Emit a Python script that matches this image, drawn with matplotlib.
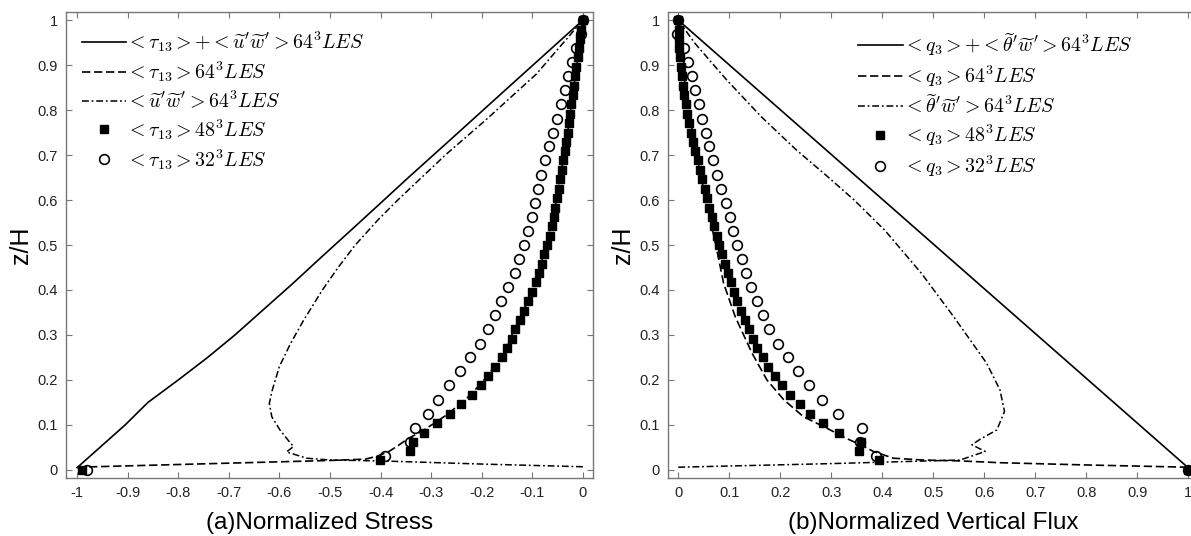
import matplotlib
matplotlib.use("Agg")
import matplotlib.pyplot as plt
from matplotlib.ticker import FuncFormatter

plt.rcParams["font.family"] = ["Liberation Sans", "DejaVu Sans"]
plt.rcParams["mathtext.fontset"] = "cm"

# grid levels of the coarse runs
z48 = [0.0, 0.021, 0.042, 0.063, 0.083, 0.104, 0.125, 0.146, 0.167, 0.188, 0.208, 0.229, 0.25,
       0.271, 0.292, 0.313, 0.333, 0.354, 0.375, 0.396, 0.417, 0.438, 0.458, 0.479, 0.5,
       0.521, 0.542, 0.563, 0.583, 0.604, 0.625, 0.646, 0.667, 0.688, 0.708, 0.729, 0.75,
       0.771, 0.792, 0.813, 0.833, 0.854, 0.875, 0.896, 0.917, 0.938, 0.958, 0.979, 1.0]
z32 = [0.0, 0.031, 0.063, 0.094, 0.125, 0.156, 0.188, 0.219, 0.25, 0.281, 0.313, 0.344, 0.375,
       0.406, 0.438, 0.469, 0.5, 0.531, 0.563, 0.594, 0.625, 0.656, 0.688, 0.719, 0.75,
       0.781, 0.813, 0.844, 0.875, 0.906, 0.938, 0.969, 1.0]

# (a) stress
stress_sgs48 = [-0.99, -0.401, -0.342, -0.336, -0.314, -0.288, -0.263, -0.240, -0.220, -0.202,
                -0.187, -0.174, -0.160, -0.150, -0.141, -0.134, -0.124, -0.116, -0.108, -0.100,
                -0.093, -0.087, -0.081, -0.076, -0.071, -0.066, -0.062, -0.058, -0.055, -0.051,
                -0.048, -0.045, -0.042, -0.039, -0.036, -0.033, -0.030, -0.028, -0.025, -0.023,
                -0.020, -0.018, -0.015, -0.013, -0.010, -0.008, -0.005, -0.003, 0.0]
stress_sgs32 = [-0.98, -0.391, -0.342, -0.332, -0.307, -0.286, -0.265, -0.243, -0.223, -0.204,
                -0.188, -0.174, -0.161, -0.148, -0.135, -0.126, -0.117, -0.109, -0.101, -0.095,
                -0.088, -0.082, -0.075, -0.067, -0.060, -0.052, -0.044, -0.036, -0.029, -0.022,
                -0.014, -0.003, 0.0]

stress_tot_z = [0.005, 0.05, 0.1, 0.15, 0.2, 0.25, 0.3, 0.35, 0.415, 0.47, 0.556, 0.65, 0.733,
                0.85, 1.0]
stress_tot_x = [-1.0, -0.955, -0.905, -0.86, -0.8, -0.742, -0.688, -0.638, -0.573, -0.52,
                -0.436, -0.345, -0.263, -0.148, 0.0]

stress_sgs_z = [0.006, 0.012, 0.018, 0.021, 0.024, 0.03, 0.04, 0.052, 0.07, 0.085, 0.105, 0.125,
                0.167, 0.208, 0.25, 0.313, 0.375, 0.438, 0.5, 0.583, 0.667, 0.75, 0.833, 0.917, 1.0]
stress_sgs_x = [-1.0, -0.8, -0.6, -0.5, -0.43, -0.408, -0.385, -0.368, -0.345, -0.32, -0.292,
                -0.266, -0.222, -0.189, -0.162, -0.135, -0.109, -0.088, -0.072, -0.055, -0.042,
                -0.030, -0.020, -0.010, 0.0]

stress_res_z = [0.007, 0.013, 0.02, 0.022, 0.026, 0.04, 0.052, 0.062, 0.089, 0.118, 0.148, 0.178,
                0.23, 0.281, 0.333, 0.4, 0.45, 0.5, 0.556, 0.6, 0.7, 0.778, 0.88, 1.0]
stress_res_x = [0.0, -0.2, -0.4, -0.5, -0.546, -0.586, -0.572, -0.58, -0.599, -0.615, -0.62,
                -0.614, -0.6, -0.578, -0.552, -0.515, -0.484, -0.45, -0.405, -0.366, -0.272,
                -0.192, -0.092, 0.0]

# (b) vertical flux
flux_sgs48 = [1.0, 0.393, 0.355, 0.358, 0.316, 0.284, 0.259, 0.239, 0.220, 0.204, 0.190, 0.177,
              0.166, 0.154, 0.146, 0.138, 0.130, 0.124, 0.116, 0.110, 0.103, 0.097, 0.092, 0.086,
              0.080, 0.076, 0.071, 0.066, 0.061, 0.056, 0.052, 0.046, 0.042, 0.038, 0.033, 0.029,
              0.025, 0.022, 0.018, 0.015, 0.012, 0.010, 0.008, 0.006, 0.004, 0.002, 0.001, 0.001, 0.0]
flux_sgs32 = [1.0, 0.388, 0.357, 0.360, 0.313, 0.282, 0.257, 0.235, 0.215, 0.195, 0.179, 0.167,
              0.154, 0.143, 0.133, 0.125, 0.116, 0.108, 0.101, 0.093, 0.084, 0.077, 0.069, 0.061,
              0.054, 0.046, 0.040, 0.032, 0.027, 0.020, 0.012, -0.003, 0.0]

flux_tot_z = [1.0, 0.005]
flux_tot_x = [0.0, 1.0]

flux_sgs_z = [0.006, 0.011, 0.016, 0.02, 0.022, 0.026, 0.041, 0.056, 0.07, 0.093, 0.118, 0.156,
              0.2, 0.259, 0.34, 0.415, 0.504, 0.58, 0.667, 0.75, 0.833, 0.917, 1.0]
flux_sgs_x = [1.0, 0.8, 0.631, 0.553, 0.48, 0.422, 0.383, 0.357, 0.33, 0.291, 0.246, 0.207,
              0.174, 0.145, 0.112, 0.089, 0.073, 0.058, 0.042, 0.028, 0.016, 0.007, 0.0]

flux_res_z = [0.006, 0.014, 0.022, 0.041, 0.056, 0.068, 0.089, 0.13, 0.178, 0.237, 0.341, 0.437,
              0.533, 0.6, 0.655, 0.711, 0.785, 0.867, 0.948, 1.0]
flux_res_x = [0.0, 0.3, 0.553, 0.602, 0.576, 0.592, 0.625, 0.64, 0.631, 0.605, 0.54, 0.477,
              0.405, 0.345, 0.29, 0.232, 0.163, 0.095, 0.033, 0.0]

labels_a = [r"$<\tau_{13}>+<\widetilde{u}'\widetilde{w}'>64^3LES$",
            r"$<\tau_{13}>64^3LES$",
            r"$<\widetilde{u}'\widetilde{w}'>64^3LES$",
            r"$<\tau_{13}>48^3LES$",
            r"$<\tau_{13}>32^3LES$"]
labels_b = [r"$<q_3>+<\widetilde{\theta}'\widetilde{w}'>64^3LES$",
            r"$<q_3>64^3LES$",
            r"$<\widetilde{\theta}'\widetilde{w}'>64^3LES$",
            r"$<q_3>48^3LES$",
            r"$<q_3>32^3LES$"]

DASH = (5, 2.2)
DASHDOT = (4.5, 1.8, 1.2, 1.8)
SPINE = "#777777"


def fmt(v, pos):
    return f"{v:.1f}".rstrip("0").rstrip(".") if abs(v) > 1e-9 else "0"


def draw(ax, tot, sgs, res, sq, ci, labels, xlim, xticks, xlabel):
    ax.plot(tot[0], tot[1], color="k", lw=1.2, label=labels[0])
    ax.plot(sgs[0], sgs[1], color="k", lw=1.2, dashes=DASH, label=labels[1])
    ax.plot(res[0], res[1], color="k", lw=1.1, dashes=DASHDOT, label=labels[2])
    ax.plot(sq, z48, ls="none", marker="s", ms=6.2, color="k", label=labels[3])
    ax.plot(ci, z32, ls="none", marker="o", ms=7, mfc="none", mec="k", mew=1.2, label=labels[4])
    ax.set_xlim(*xlim)
    ax.set_ylim(-0.018, 1.018)
    ax.set_xticks(xticks)
    ax.set_yticks([i / 10 for i in range(11)])
    ax.xaxis.set_major_formatter(FuncFormatter(fmt))
    ax.yaxis.set_major_formatter(FuncFormatter(fmt))
    ax.tick_params(direction="in", top=True, right=True, length=4, width=0.8,
                   color=SPINE, labelsize=10.5, labelcolor="#222222", pad=6)
    for s in ax.spines.values():
        s.set_color(SPINE)
        s.set_linewidth(1.0)
    ax.set_ylabel("z/H", fontsize=18, labelpad=3)
    ax.set_xlabel(xlabel, fontsize=17.5)


fig = plt.figure(figsize=(11.91, 5.36), dpi=100)
ax1 = fig.add_axes([0.0554, 0.1082, 0.4425, 0.8694])
ax2 = fig.add_axes([0.5609, 0.1082, 0.4452, 0.8694])

draw(ax1, (stress_tot_x, stress_tot_z), (stress_sgs_x, stress_sgs_z),
     (stress_res_x, stress_res_z), stress_sgs48, stress_sgs32, labels_a,
     (-1.022, 0.02), [-1 + i / 10 for i in range(11)], "(a)Normalized Stress")
draw(ax2, (flux_tot_x, flux_tot_z), (flux_sgs_x, flux_sgs_z),
     (flux_res_x, flux_res_z), flux_sgs48, flux_sgs32, labels_b,
     (-0.02, 1.02), [i / 10 for i in range(11)], "(b)Normalized Vertical Flux")
# the left caption sits a little left of the axes centre in the original
ax1.xaxis.set_label_coords(0.482, -0.073)
ax2.xaxis.set_label_coords(0.5, -0.073)

leg_kw = dict(frameon=False, fontsize=14.3, handlelength=2.25, handletextpad=0.0,
              labelspacing=0.27, borderpad=0, borderaxespad=0, loc="upper left")
ax1.legend(bbox_to_anchor=(0.03, 0.963), **leg_kw)
ax2.legend(bbox_to_anchor=(0.358, 0.958), **leg_kw)

fig.savefig("out.png", dpi=100)
